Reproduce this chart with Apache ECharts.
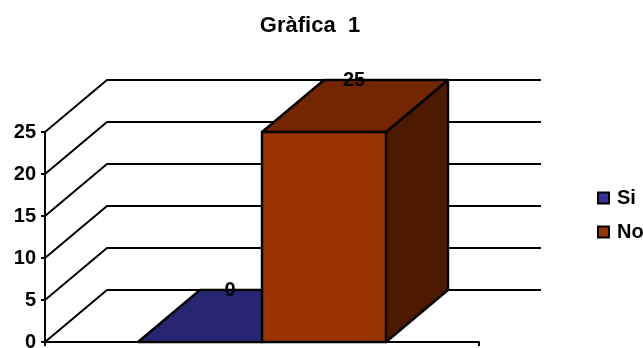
<!DOCTYPE html>
<html>
<head>
<meta charset="utf-8">
<style>html,body{margin:0;padding:0;background:#fff}#chart{width:643px;height:348px}</style>
<script src="https://cdn.jsdelivr.net/npm/echarts@6/dist/echarts.min.js"></script>
</head>
<body>
<div id="chart"></div>
<script>
const titleText = 'Gràfica  1';
const categories = [''];
const siValues = [0];
const noValues = [25];
const yTicks = [0, 5, 10, 15, 20, 25];

// Oblique projection used for the pseudo-3D box and walls
const DEPTH_X = 62;
const DEPTH_Y = 52;
const BAR_SHARE = 124 / 434;
const FONT = '"Liberation Sans", Arial, sans-serif';
const EDGE = { stroke: '#000', lineWidth: 2.4, lineJoin: 'round' };

function shape3d(points, fill) {
  return { type: 'polygon', shape: { points }, style: { fill, ...EDGE } };
}

// One extruded bar: top and side faces, front face, then the value label
function barRenderer(index, front, top, side) {
  return function (params, api) {
    const value = api.value(1);
    const [cx, yTop] = api.coord([0, value]);
    const yBase = api.coord([0, 0])[1];
    const w = api.size([1, 0])[0] * BAR_SHARE;
    const x0 = cx - w + index * w;
    const x1 = x0 + w;
    const children = [];
    children.push(shape3d([[x1, yBase], [x1 + DEPTH_X, yBase - DEPTH_Y], [x1 + DEPTH_X, yTop - DEPTH_Y], [x1, yTop]], side));
    children.push(shape3d([[x0, yTop], [x0 + DEPTH_X, yTop - DEPTH_Y], [x1 + DEPTH_X, yTop - DEPTH_Y], [x1, yTop]], top));
    if (yBase > yTop) {
      children.push(shape3d([[x0, yTop], [x1, yTop], [x1, yBase], [x0, yBase]], front));
    }
    children.push({
      type: 'text', z2: 10,
      style: {
        text: String(value), x: (x0 + x1) / 2 + DEPTH_X / 2 - 1, y: yTop - DEPTH_Y,
        align: 'center', verticalAlign: 'middle',
        font: 'bold 20px ' + FONT, fill: '#000'
      }
    });
    return { type: 'group', children };
  };
}

// Each gridline runs up the left wall and then along the back wall
function wallRenderer(params, api) {
  const y = api.coord([0, api.value(0)])[1];
  const x0 = params.coordSys.x;
  const x1 = x0 + params.coordSys.width;
  return {
    type: 'polyline',
    shape: { points: [[x0, y], [x0 + DEPTH_X, y - DEPTH_Y], [x1 + DEPTH_X, y - DEPTH_Y]] },
    style: { fill: 'none', stroke: '#000', lineWidth: 2 }
  };
}

const chart = echarts.init(document.getElementById('chart'), null, { renderer: 'canvas' });
chart.setOption({
  animation: false,
  backgroundColor: '#fff',
  title: {
    text: titleText, left: 305, top: 10, textAlign: 'center',
    textStyle: { fontFamily: FONT, fontSize: 22, fontWeight: 'bold', color: '#000' }
  },
  legend: {
    orient: 'vertical', left: 597, top: 188, padding: 0,
    itemWidth: 11, itemHeight: 11, itemGap: 14,
    data: ['Si', 'No'], icon: 'rect',
    textStyle: { fontFamily: FONT, fontSize: 20, fontWeight: 'bold', color: '#000', padding: [0, 0, 0, 3] }
  },
  grid: { left: 45, top: 132, width: 434, height: 210, outerBoundsMode: 'none' },
  xAxis: {
    type: 'category', data: categories,
    axisLine: { lineStyle: { color: '#000', width: 2 } },
    axisTick: { show: true, length: 4, lineStyle: { color: '#000', width: 2 } },
    axisLabel: { show: false }
  },
  yAxis: {
    type: 'value', min: 0, max: 25, interval: 5,
    splitLine: { show: false },
    axisLine: { show: true, lineStyle: { color: '#000', width: 2 } },
    axisTick: { show: true, length: 4, lineStyle: { color: '#000', width: 2 } },
    axisLabel: { margin: 9, fontFamily: FONT, fontSize: 20, fontWeight: 'bold', color: '#000' }
  },
  series: [
    { type: 'custom', name: 'walls', z: 1, silent: true, clip: false,
      data: yTicks.map(t => [t]), encode: { y: 0 }, renderItem: wallRenderer },
    { type: 'custom', name: 'Si', z: 2, clip: false,
      itemStyle: { color: '#333399', borderColor: '#000', borderWidth: 3 },
      data: siValues.map((v, i) => [i, v]), encode: { x: 0, y: 1 },
      renderItem: barRenderer(0, '#333399', '#262673', '#1a1a4d') },
    { type: 'custom', name: 'No', z: 3, clip: false,
      itemStyle: { color: '#993300', borderColor: '#000', borderWidth: 3 },
      data: noValues.map((v, i) => [i, v]), encode: { x: 0, y: 1 },
      renderItem: barRenderer(1, '#993300', '#732600', '#4d1a00') }
  ]
});
</script>
</body>
</html>
